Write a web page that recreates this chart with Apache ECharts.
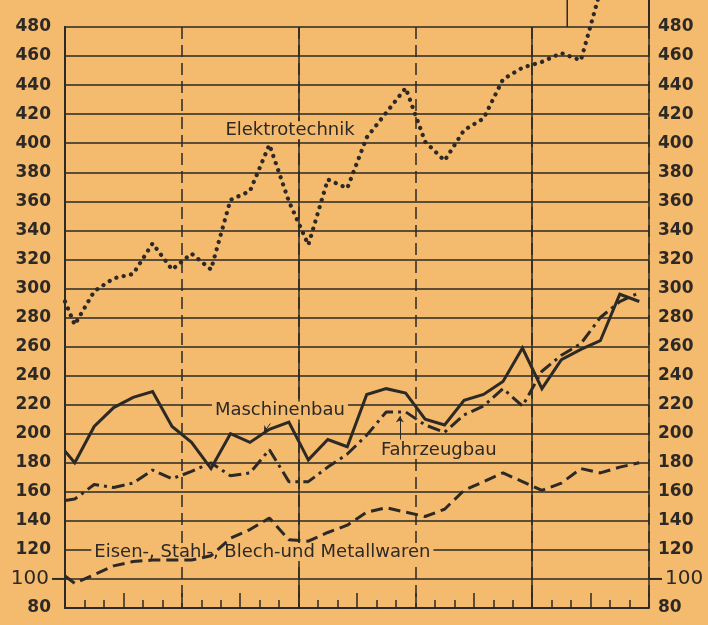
<!DOCTYPE html>
<html>
<head>
<meta charset="utf-8">
<title>Produktionsindex</title>
<script src="https://cdn.jsdelivr.net/npm/echarts@6/dist/echarts.min.js"></script>
<style>
    html, body { margin: 0; padding: 0; background: #f4ba6e; }
    #chart-container { width: 708px; height: 625px; }
</style>
</head>
<body>
<div id="chart-container"></div>
<script>
// first value = start at left edge, then one value per month (30 months)
var maschinenbau = [188, 180, 205, 218, 225, 229, 205, 194, 176, 200, 194, 203, 208, 182, 196, 191,
    227, 231, 228, 210, 206, 223, 227, 236, 259, 231, 251, 258, 264, 296, 291];
var fahrzeugbau = [154, 155, 165, 163, 166, 175, 169, 174, 180, 171, 173, 189, 167, 167, 177, 186,
    199, 215, 215, 206, 201, 213, 219, 231, 219, 243, 254, 262, 280, 291, 297];
var metallwaren = [102, 97, 103, 109, 112, 113, 113, 113, 116, 128, 134, 142, 127, 126, 132, 137,
    146, 149, 146, 143, 148, 161, 167, 173, 167, 161, 166, 176, 173, 177, 180];
var elektrotechnik = [291, 275, 298, 307, 310, 331, 313, 324, 313, 361, 367, 399, 360, 330, 375, 369,
    404, 421, 438, 401, 388, 409, 417, 444, 452, 456, 462, 457, 505, null, null];
var yTicks = [80, 100, 120, 140, 160, 180, 200, 220, 240, 260, 280, 300, 320, 340, 360, 380, 400, 420, 440, 460, 480];
var monthCount = 30;

var paper = '#f4ba6e';
var ink = '#2d2925';
var font = 'DejaVu Sans';

function toPoints(arr) {
    return arr.map(function (v, i) {
        return [i === 0 ? 0 : i - 0.5, v];
    });
}

var labelRich = {
    n: { fontFamily: font, fontWeight: 'bold', fontSize: 17, color: ink },
    big: { fontFamily: font, fontSize: 20, color: ink },
    dash: { width: 13, height: 2, backgroundColor: ink, verticalAlign: 'middle' },
    sp: { width: 3 },
    gapL: { width: 14 },
    gapR: { width: 9 }
};

function textLabel(text) {
    return {
        show: true,
        position: 'inside',
        formatter: text,
        fontFamily: font,
        fontSize: 18,
        color: ink,
        backgroundColor: paper,
        padding: [0, 3]
    };
}

function mark(coord, text) {
    return {
        coord: coord,
        symbol: 'circle',
        symbolSize: 1,
        itemStyle: { color: 'rgba(0,0,0,0)' },
        label: textLabel(text)
    };
}

var dom = document.getElementById('chart-container');
var myChart = echarts.init(dom, null, { renderer: 'canvas' });

var option = {
    backgroundColor: paper,
    animation: false,
    grid: { left: 65, right: 59, top: 27, bottom: 17 },
    xAxis: [{
        type: 'value',
        min: 0,
        max: monthCount,
        interval: 3,
        axisLine: { show: true, onZero: false, lineStyle: { color: ink, width: 2 } },
        axisTick: { show: true, inside: true, length: 15, lineStyle: { color: ink, width: 1.5 } },
        minorTick: { show: true, splitNumber: 3, length: 8, lineStyle: { color: ink, width: 1.5 } },
        axisLabel: { show: false },
        splitLine: { show: false }
    }, {
        // years
        type: 'value',
        min: 0,
        max: monthCount,
        interval: 12,
        axisLine: { show: false },
        axisTick: { show: false },
        axisLabel: { show: false },
        splitLine: { show: true, lineStyle: { color: ink, width: 1.5 } }
    }, {
        // half years
        type: 'value',
        min: 0,
        max: monthCount,
        interval: 6,
        axisLine: { show: false },
        axisTick: { show: false },
        axisLabel: { show: false },
        splitLine: { show: true, lineStyle: { color: ink, width: 1.5, type: [12, 6] } }
    }],
    yAxis: [{
        type: 'value',
        position: 'left',
        min: yTicks[0],
        max: yTicks[yTicks.length - 1],
        interval: 20,
        axisLine: { show: true, lineStyle: { color: ink, width: 2 } },
        axisTick: { show: false },
        splitLine: { show: true, lineStyle: { color: ink, width: 1.5 } },
        axisLabel: {
            margin: 0,
            formatter: function (v) {
                return v === 100 ? '{big|100}{sp|}{dash|}' : '{n|' + v + '}{gapL|}';
            },
            rich: labelRich
        }
    }, {
        type: 'value',
        position: 'right',
        min: yTicks[0],
        max: yTicks[yTicks.length - 1],
        interval: 20,
        axisLine: { show: true, lineStyle: { color: ink, width: 2 } },
        axisTick: { show: false },
        splitLine: { show: false },
        axisLabel: {
            margin: 0,
            formatter: function (v) {
                return v === 100 ? '{dash|}{sp|}{big|100}' : '{gapR|}{n|' + v + '}';
            },
            rich: labelRich
        }
    }],
    series: [{
        name: 'Elektrotechnik',
        type: 'line',
        clip: false,
        showSymbol: false,
        data: toPoints(elektrotechnik),
        lineStyle: { color: ink, width: 4.2, type: [0.1, 7.4], cap: 'round' },
        markPoint: { z: 1, data: [mark([11.56, 409], 'Elektrotechnik')] }
    }, {
        name: 'Maschinenbau',
        type: 'line',
        clip: false,
        showSymbol: false,
        data: toPoints(maschinenbau),
        lineStyle: { color: ink, width: 3, join: 'miter' },
        markPoint: { z: 1, data: [mark([11.04, 216], 'Maschinenbau')] },
        markLine: {
            silent: true,
            symbol: ['none', 'arrow'],
            symbolSize: 6,
            label: { show: false },
            lineStyle: { color: ink, width: 1, type: 'solid' },
            data: [[{ coord: [10.55, 207] }, { coord: [10.22, 201] }]]
        }
    }, {
        name: 'Fahrzeugbau',
        type: 'line',
        clip: false,
        showSymbol: false,
        data: toPoints(fahrzeugbau),
        lineStyle: { color: ink, width: 3, type: [13, 5, 3, 5] },
        markPoint: { z: 1, data: [mark([19.2, 188.8], 'Fahrzeugbau')] },
        markLine: {
            silent: true,
            symbol: ['none', 'arrow'],
            symbolSize: 6,
            label: { show: false },
            lineStyle: { color: ink, width: 1, type: 'solid' },
            data: [[{ coord: [17.2, 196] }, { coord: [17.2, 212] }]]
        }
    }, {
        name: 'Eisen-, Stahl-, Blech- und Metallwaren',
        type: 'line',
        clip: false,
        showSymbol: false,
        data: toPoints(metallwaren),
        lineStyle: { color: ink, width: 3, type: [12, 6] },
        markPoint: { z: 1, data: [mark([10.14, 118.5], 'Eisen-, Stahl-, Blech-und Metallwaren')] }
    }]
};
myChart.setOption(option);

// frame above the 480 line (right border and inset box), cut off at the top
var px = function (x, y) {
    return myChart.convertToPixel({ xAxisIndex: 0, yAxisIndex: 0 }, [x, y]);
};
var topRight = px(monthCount, 480);
var boxLeft = px(25.8, 480);
var leftTop = px(0, 500);
myChart.setOption({
    graphic: [{
        type: 'line',
        shape: { x1: topRight[0], y1: topRight[1], x2: topRight[0], y2: 0 },
        style: { stroke: ink, lineWidth: 2 }
    }, {
        type: 'line',
        shape: { x1: boxLeft[0], y1: boxLeft[1], x2: boxLeft[0], y2: 0 },
        style: { stroke: ink, lineWidth: 1.5 }
    }, {
        type: 'text',
        x: leftTop[0] - 14,
        y: leftTop[1] - 2,
        style: { text: '500', font: 'bold 17px ' + font, fill: ink, align: 'right', verticalAlign: 'middle' }
    }, {
        type: 'text',
        x: topRight[0] + 9,
        y: leftTop[1] - 6,
        style: { text: '500', font: 'bold 17px ' + font, fill: ink, align: 'left', verticalAlign: 'middle' }
    }]
});
</script>
</body>
</html>
